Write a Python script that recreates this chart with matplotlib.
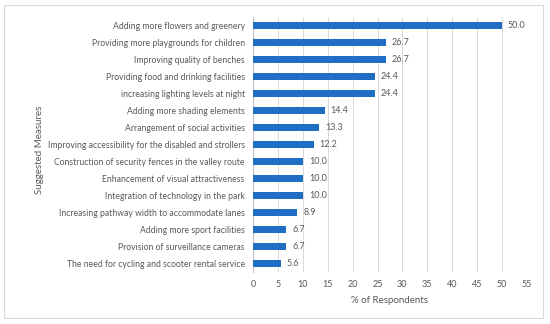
import numpy as np
from matplotlib import pyplot as plt
from matplotlib.patches import Rectangle

measures = [
    "Adding more flowers and greenery",
    "Providing more playgrounds for children",
    "Improving quality of benches",
    "Providing food and drinking facilities",
    "increasing lighting levels at night",
    "Adding more shading elements",
    "Arrangement of social activities",
    "Improving accessibility for the disabled and strollers",
    "Construction of security fences in the valley route",
    "Enhancement of visual attractiveness",
    "Integration of technology in the park",
    "Increasing pathway width to accommodate lanes",
    "Adding more sport facilities",
    "Provision of surveillance cameras",
    "The need for cycling and scooter rental service",
]
percent = [50.0, 26.7, 26.7, 24.4, 24.4, 14.4, 13.3, 12.2, 10.0, 10.0, 10.0, 8.9, 6.7, 6.7, 5.6]
xticks = list(range(0, 60, 5))

plt.rcParams["font.family"] = ["Lato", "DejaVu Sans"]
text_color = "#595959"
bar_color = "#1F6EC4"
fs = 6.2

fig = plt.figure(figsize=(5.5, 3.24), dpi=100)
fig.patches.append(Rectangle((4 / 550, 1 - 318 / 324), 539 / 550, 313 / 324,
                             transform=fig.transFigure, fill=False,
                             edgecolor="#d9d9d9", linewidth=0.8))
ax = fig.add_axes([0.46, 0.160, 0.498, 0.788])

y = np.arange(len(measures))[::-1]
ax.barh(y, percent, height=0.38, color=bar_color, zorder=3)
for yi, v in zip(y, percent):
    ax.text(v + 1.2, yi, f"{v:.1f}", va="center", ha="left", fontsize=fs + 0.3, color=text_color)

ax.set_yticks(y)
ax.set_yticklabels(measures, fontsize=fs, color=text_color)
ax.set_xticks(xticks)
ax.set_xticklabels([str(t) for t in xticks], fontsize=fs + 0.3, color=text_color)
ax.set_xlim(0, 55)
ax.set_ylim(-0.5, len(measures) - 0.5)
ax.tick_params(length=0, pad=6)
ax.grid(axis="x", color="#d9d9d9", linewidth=0.7, zorder=0)
for s in ["top", "right", "bottom"]:
    ax.spines[s].set_visible(False)
ax.spines["left"].set_color("#bfbfbf")
ax.spines["left"].set_linewidth(0.7)
ax.set_xlabel("% of Respondents", fontsize=7, color=text_color, labelpad=5)
fig.text(40 / 550, 1 - 150 / 324, "Suggested Measures", rotation=90, fontsize=7,
         color=text_color, ha="center", va="center")

fig.savefig("out.png", dpi=100)
